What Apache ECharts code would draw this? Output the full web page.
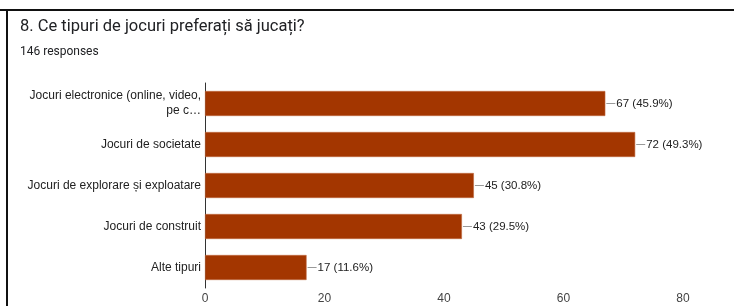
<!DOCTYPE html>
<html lang="ro">
  <head>
    <meta charset="utf-8" />
    <title>Ce tipuri de jocuri preferați să jucați?</title>
    <script src="https://cdn.jsdelivr.net/npm/echarts@6/dist/echarts.min.js"></script>
    <style>
      body { margin: 0; background: #fff; }
      #main { width: 734px; height: 306px; }
    </style>
  </head>
  <body>
    <div id="main"></div>
    <script>
      // data
      var categories = [
        "Jocuri electronice (online, video,\npe c…",
        "Jocuri de societate",
        "Jocuri de explorare și exploatare",
        "Jocuri de construit",
        "Alte tipuri"
      ];
      var counts = [67, 72, 45, 43, 17];
      var percents = ["45.9%", "49.3%", "30.8%", "29.5%", "11.6%"];
      var xTicks = [0, 20, 40, 60, 80];

      var chart = echarts.init(document.getElementById("main"));

      var option = {
        animation: false,
        textStyle: { fontFamily: "Liberation Sans, Arial, sans-serif" },
        title: {
          text: "8. Ce tipuri de jocuri preferați să jucați?",
          subtext: "146 responses",
          left: 15,
          top: 13,
          itemGap: 11,
          textStyle: { fontFamily: "Roboto", fontSize: 16.5, fontWeight: "normal", color: "#202124" },
          subtextStyle: { fontFamily: "Roboto", fontSize: 12, color: "#202124" }
        },
        grid: { left: 205, right: 51, top: 83, bottom: 18, containLabel: false },
        xAxis: {
          type: "value",
          min: 0,
          max: xTicks[xTicks.length - 1],
          interval: 20,
          splitLine: { show: false },
          axisLine: { show: false },
          axisTick: { show: false },
          axisLabel: { color: "#444", fontSize: 12, margin: 5 }
        },
        yAxis: {
          type: "category",
          inverse: true,
          data: categories,
          axisLine: { show: true, lineStyle: { color: "#333", width: 1 } },
          axisTick: { show: false },
          axisLabel: { color: "#222", fontSize: 12, margin: 4, align: "right", lineHeight: 15 }
        },
        series: [
          {
            type: "bar",
            data: counts,
            barWidth: 25,
            itemStyle: { color: "#a33600", borderColor: "#c06a40", borderWidth: 0.6 },
            label: {
              show: true,
              position: "right",
              distance: 1,
              formatter: function (p) {
                return "{l| }{t|" + p.value + " (" + percents[p.dataIndex] + ")}";
              },
              rich: {
                l: { width: 9, height: 1, backgroundColor: "#999", fontSize: 1 },
                t: { color: "#222", fontSize: 11.5, padding: [0, 0, 0, 1] }
              }
            }
          }
        ],
        graphic: [
          { type: "rect", shape: { x: 0, y: 9, width: 734, height: 2 }, style: { fill: "#111" } },
          { type: "rect", shape: { x: 6, y: 9, width: 2, height: 297 }, style: { fill: "#111" } }
        ]
      };

      chart.setOption(option);
    </script>
  </body>
</html>
